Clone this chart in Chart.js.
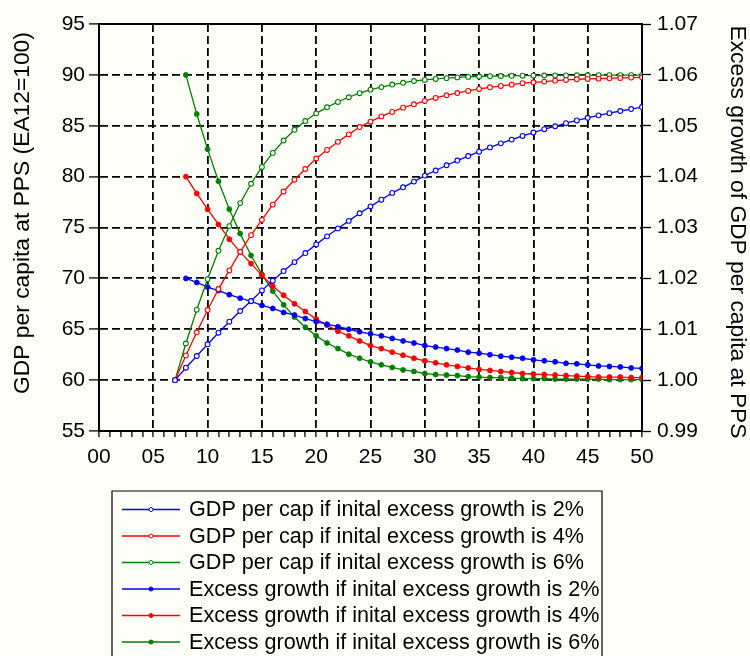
<!DOCTYPE html>
<html>
<head>
<meta charset="utf-8">
<script src="https://cdn.jsdelivr.net/npm/chart.js@4.4.1/dist/chart.umd.min.js"></script>
<style>
  html, body { margin: 0; padding: 0; background: #fefef8; }
  canvas { display: block; }
</style>
</head>
<body>
<canvas id="chart" width="750" height="656"></canvas>
<script>
// years (2000 = 0) for the GDP paths and for the excess growth paths
const gdpYears = [7, 8, 9, 10, 11, 12, 13, 14, 15, 16, 17, 18, 19, 20, 21, 22, 23, 24, 25, 26, 27, 28,
    29, 30, 31, 32, 33, 34, 35, 36, 37, 38, 39, 40, 41, 42, 43, 44, 45, 46, 47, 48, 49, 50];
const excessYears = [8, 9, 10, 11, 12, 13, 14, 15, 16, 17, 18, 19, 20, 21, 22, 23, 24, 25, 26, 27, 28,
    29, 30, 31, 32, 33, 34, 35, 36, 37, 38, 39, 40, 41, 42, 43, 44, 45, 46, 47, 48, 49, 50];

// GDP per capita at PPS (EA12=100), left axis
const gdp2 = [60, 61.22, 62.37, 63.52, 64.66, 65.74, 66.79, 67.77, 68.82, 69.77, 70.72, 71.6, 72.49,
    73.34, 74.13, 74.91, 75.65, 76.4, 77.08, 77.73, 78.4, 78.95, 79.51, 80.1, 80.6, 81.12, 81.58, 82.02,
    82.45, 82.87, 83.27, 83.64, 84.0, 84.33, 84.66, 84.95, 85.25, 85.52, 85.78, 86.02, 86.24, 86.45, 86.64, 86.84];
const gdp4 = [60, 62.43, 64.7, 66.89, 68.95, 70.78, 72.61, 74.25, 75.75, 77.25, 78.54, 79.7, 80.75,
    81.78, 82.62, 83.42, 84.15, 84.87, 85.4, 85.92, 86.36, 86.78, 87.11, 87.44, 87.73, 88.0, 88.22, 88.42,
    88.62, 88.78, 88.91, 89.04, 89.18, 89.27, 89.34, 89.43, 89.5, 89.57, 89.6, 89.63, 89.66, 89.7, 89.73, 89.76];
const gdp6 = [60, 63.6, 66.92, 69.93, 72.71, 75.14, 77.4, 79.3, 80.95, 82.33, 83.55, 84.6, 85.46,
    86.22, 86.82, 87.34, 87.8, 88.2, 88.55, 88.8, 89.05, 89.22, 89.4, 89.5, 89.6, 89.68, 89.75, 89.8,
    89.84, 89.87, 89.89, 89.91, 89.92, 89.93, 89.94, 89.95, 89.95, 89.96, 89.96, 89.97, 89.97, 89.97, 89.98, 89.98];

// excess growth factor, right axis
const excess2 = [1.0200, 1.0192, 1.0183, 1.0176, 1.0168, 1.0161, 1.0155, 1.0147, 1.0141, 1.0133, 1.0128,
    1.0121, 1.0115, 1.0110, 1.0105, 1.0100, 1.0095, 1.0091, 1.0087, 1.0082, 1.0077, 1.0073, 1.0068, 1.0065,
    1.0062, 1.0059, 1.0055, 1.0053, 1.0050, 1.0047, 1.0045, 1.0043, 1.0040, 1.0038, 1.0036, 1.0033, 1.0032,
    1.0030, 1.0028, 1.0027, 1.0026, 1.0024, 1.0023];
const excess4 = [1.0400, 1.0367, 1.0336, 1.0306, 1.0277, 1.0252, 1.0229, 1.0206, 1.0185, 1.0167, 1.0150,
    1.0135, 1.0120, 1.0108, 1.0096, 1.0087, 1.0077, 1.0068, 1.0062, 1.0055, 1.0049, 1.0043, 1.0038, 1.0034,
    1.0030, 1.0027, 1.0024, 1.0021, 1.0019, 1.0017, 1.0015, 1.0013, 1.0012, 1.0011, 1.0010, 1.0009, 1.0008,
    1.0007, 1.0006, 1.0006, 1.0006, 1.0005, 1.0005];
const excess6 = [1.0600, 1.0523, 1.0454, 1.0391, 1.0336, 1.0288, 1.0245, 1.0208, 1.0175, 1.0148, 1.0124,
    1.0104, 1.0087, 1.0073, 1.0062, 1.0051, 1.0043, 1.0036, 1.0030, 1.0025, 1.0020, 1.0017, 1.0013, 1.0011,
    1.0010, 1.0009, 1.0007, 1.0006, 1.0005, 1.0005, 1.0004, 1.0003, 1.0003, 1.0003, 1.0002, 1.0002, 1.0002,
    1.0002, 1.0002, 1.0001, 1.0001, 1.0001, 1.0001];

const seriesLabels = [
    'GDP per cap if inital excess growth is 2%',
    'GDP per cap if inital excess growth is 4%',
    'GDP per cap if inital excess growth is 6%',
    'Excess growth if inital excess growth is 2%',
    'Excess growth if inital excess growth is 4%',
    'Excess growth if inital excess growth is 6%'
];
const leftTitle = 'GDP per capita at PPS (EA12=100)';
const rightTitle = 'Excess growth of GDP per capita at PPS';

const BG = '#fefef8';
const BLUE = 'rgb(0, 0, 255)';
const RED = 'rgb(255, 0, 0)';
const GREEN = 'rgb(0, 128, 0)';
const FONT = "'Liberation Sans', Arial, sans-serif";

const toPoints = (xs, ys) => xs.map((x, i) => ({ x: x, y: ys[i] }));

const gdpSet = (label, xs, ys, color) => ({
    label: label,
    data: toPoints(xs, ys),
    yAxisID: 'y',
    borderColor: color,
    borderWidth: 1.3,
    pointRadius: 2.4,
    pointBorderWidth: 1.1,
    pointBackgroundColor: '#ffffff',
    pointBorderColor: color,
    tension: 0,
    isOpen: true
});

const excessSet = (label, xs, ys, color) => ({
    label: label,
    data: toPoints(xs, ys),
    yAxisID: 'y1',
    borderColor: color,
    borderWidth: 1.3,
    pointRadius: 2.5,
    pointBorderWidth: 0.8,
    pointBackgroundColor: color,
    pointBorderColor: color,
    tension: 0,
    isOpen: false
});

// background + solid frame round the plot area
const framePlugin = {
    id: 'frame',
    beforeDraw(chart) {
        const ctx = chart.ctx;
        ctx.save();
        ctx.fillStyle = BG;
        ctx.fillRect(0, 0, chart.width, chart.height);
        ctx.restore();
    },
    beforeDatasetsDraw(chart) {
        const { ctx, chartArea: a } = chart;
        ctx.save();
        ctx.lineWidth = 2;
        ctx.strokeStyle = '#000';
        ctx.setLineDash([]);
        ctx.strokeRect(a.left, a.top, a.right - a.left, a.bottom - a.top);
        ctx.restore();
    }
};

// rotated axis titles and the boxed legend under the chart
const textPlugin = {
    id: 'texts',
    afterDraw(chart) {
        const ctx = chart.ctx;
        ctx.save();
        ctx.fillStyle = '#000';
        ctx.font = '22.8px ' + FONT;
        ctx.textAlign = 'center';
        ctx.textBaseline = 'middle';

        ctx.save();
        ctx.translate(23, 213);
        ctx.rotate(-Math.PI / 2);
        ctx.fillText(leftTitle, 0, 0);
        ctx.restore();

        ctx.save();
        ctx.translate(737, 232);
        ctx.rotate(Math.PI / 2);
        ctx.fillText(rightTitle, 0, 0);
        ctx.restore();

        // legend box (bottom edge falls off the picture)
        ctx.lineWidth = 1.2;
        ctx.strokeStyle = '#000';
        ctx.beginPath();
        ctx.moveTo(112, 660);
        ctx.lineTo(112, 491);
        ctx.lineTo(602, 491);
        ctx.lineTo(602, 660);
        ctx.stroke();

        ctx.font = '21.6px ' + FONT;
        ctx.textAlign = 'left';
        chart.data.datasets.forEach(function (ds, i) {
            const y = 509.5 + i * 26.5;
            ctx.strokeStyle = ds.borderColor;
            ctx.lineWidth = 1.3;
            ctx.beginPath();
            ctx.moveTo(122, y);
            ctx.lineTo(180, y);
            ctx.stroke();
            ctx.beginPath();
            ctx.arc(151, y, 2, 0, Math.PI * 2);
            ctx.fillStyle = ds.isOpen ? '#ffffff' : ds.borderColor;
            ctx.fill();
            ctx.lineWidth = 1;
            ctx.stroke();
            ctx.fillStyle = '#000';
            ctx.fillText(ds.label, 189, y + 1);
        });
        ctx.restore();
    }
};

new Chart(document.getElementById('chart'), {
    type: 'line',
    data: {
        datasets: [
            gdpSet(seriesLabels[0], gdpYears, gdp2, BLUE),
            gdpSet(seriesLabels[1], gdpYears, gdp4, RED),
            gdpSet(seriesLabels[2], gdpYears, gdp6, GREEN),
            excessSet(seriesLabels[3], excessYears, excess2, BLUE),
            excessSet(seriesLabels[4], excessYears, excess4, RED),
            excessSet(seriesLabels[5], excessYears, excess6, GREEN)
        ]
    },
    options: {
        responsive: false,
        devicePixelRatio: 1,
        animation: false,
        layout: {
            padding: { top: 24, bottom: 185, left: 0, right: 0 }
        },
        plugins: {
            legend: { display: false },
            tooltip: { enabled: false }
        },
        scales: {
            x: {
                type: 'linear',
                position: 'bottom',
                min: 0,
                max: 50,
                afterFit: (s) => { s.height = 40; },
                ticks: {
                    stepSize: 1,
                    autoSkip: false,
                    maxRotation: 0,
                    padding: 8,
                    color: '#000',
                    font: { size: 21, family: FONT },
                    callback: (v) => (v % 5 === 0 ? String(v).padStart(2, '0') : '')
                },
                grid: {
                    color: (c) => (c.tick && c.tick.value % 5 === 0 ? '#000' : 'rgba(0,0,0,0)'),
                    lineWidth: 1.8,
                    tickColor: '#000',
                    tickLength: 6,
                    tickWidth: 1.3
                },
                border: { display: true, color: '#000', width: 2, dash: [8, 4] }
            },
            y: {
                position: 'left',
                min: 55,
                max: 95,
                afterFit: (s) => { s.width = 99; },
                ticks: {
                    stepSize: 5,
                    padding: 4,
                    color: '#000',
                    font: { size: 21, family: FONT }
                },
                grid: {
                    color: '#000',
                    lineWidth: 1.8,
                    tickColor: '#000',
                    tickLength: 10,
                    tickWidth: 1.3
                },
                border: { display: true, color: '#000', width: 2, dash: [8, 4] }
            },
            y1: {
                position: 'right',
                min: 0.99,
                max: 1.07,
                afterFit: (s) => { s.width = 108; },
                ticks: {
                    stepSize: 0.01,
                    padding: 6,
                    color: '#000',
                    font: { size: 21, family: FONT },
                    callback: (v) => v.toFixed(2)
                },
                grid: {
                    drawOnChartArea: false,
                    tickColor: '#000',
                    tickLength: 9,
                    tickWidth: 1.3
                },
                border: { display: true, color: '#000', width: 2 }
            }
        }
    },
    plugins: [framePlugin, textPlugin]
});
</script>
</body>
</html>
